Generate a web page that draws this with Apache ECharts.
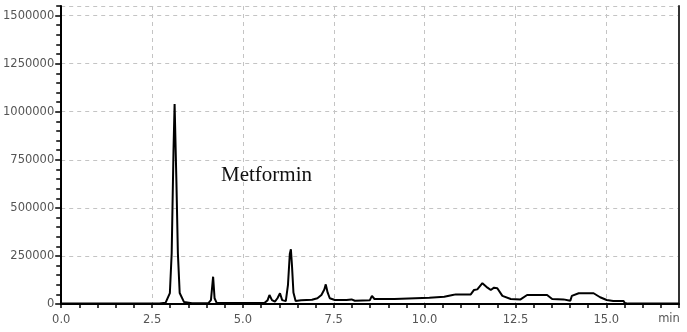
<!DOCTYPE html>
<html>
<head>
<meta charset="utf-8">
<script src="https://cdn.jsdelivr.net/npm/echarts@6/dist/echarts.min.js"></script>
<style>
html,body{margin:0;padding:0;background:#fff;}
#c{width:687px;height:332px;}
</style>
</head>
<body>
<div id="c"></div>
<script>
// Retention time (min)
const times = [0, 1.0, 2.0, 2.7, 2.87, 2.99, 3.04, 3.09, 3.12, 3.13, 3.17, 3.21, 3.26, 3.38, 3.6,
  4.05, 4.12, 4.18, 4.22, 4.28, 5.0, 5.6, 5.68, 5.73, 5.8, 5.88, 5.95, 6.02, 6.08, 6.18,
  6.24, 6.29, 6.32, 6.35, 6.39, 6.45, 6.6, 6.9, 7.05, 7.16, 7.24, 7.28, 7.33, 7.39, 7.53,
  7.85, 7.89, 7.99, 8.08, 8.49, 8.55, 8.62, 9.17, 9.22, 10.13, 10.18, 10.54, 10.59, 10.77,
  10.81, 10.86, 11.27, 11.36, 11.45, 11.59, 11.73, 11.82, 11.91, 12.00, 12.14, 12.37, 12.64,
  12.82, 13.37, 13.51, 13.82, 13.87, 14.01, 14.05, 14.24, 14.65, 14.83, 15.01, 15.19, 15.47,
  15.51, 15.6, 17];
// Detector response
const intensities = [2000, 2000, 2500, 3000, 6000, 57000, 265000, 801000, 1040000, 1046000, 636000, 265000, 57000, 10000, 4000,
  4000, 20000, 142000, 30000, 5000, 5000, 6000, 20000, 47000, 20000, 12000, 30000, 56000, 20000, 15000,
  100000, 260000, 285000, 200000, 60000, 16000, 20000, 22000, 30000, 47000, 75000, 102000, 60000, 30000, 21000,
  21000, 28000, 24000, 17000, 19000, 42000, 26000, 26000, 33000, 33000, 38000, 38000, 47000, 47000,
  56000, 50000, 50000, 73000, 76000, 108000, 85000, 73000, 85000, 82000, 42000, 26000, 24000,
  47000, 47000, 26000, 24000, 17000, 17000, 42000, 56000, 56000, 35000, 21000, 16000, 16000,
  5000, 2000, 2000];
const xTickLabels = ['0.0', '2.5', '5.0', '7.5', '10.0', '12.5', '15.0'];
const yTickLabels = ['0', '250000', '500000', '750000', '1000000', '1250000', '1500000'];
const xUnit = 'min';
const annotation = 'Metformin';

const xMin = 0, xMax = 17, yMin = 0, yMax = 1550000;
const data = times.map((t, i) => [t, intensities[i]]);

const labelFont = {fontFamily: 'DejaVu Sans', fontSize: 11.5, color: '#555'};
const gridDash = {color: '#c4c4c4', type: [4, 4], width: 1};

const chart = echarts.init(document.getElementById('c'), null, {renderer: 'canvas'});
chart.setOption({
  animation: false,
  backgroundColor: '#fff',
  grid: {left: 58, right: 8, top: 6, bottom: 28, containLabel: false},
  xAxis: [
    { // minor tick axis
      type: 'value', position: 'bottom', min: xMin, max: xMax, interval: 0.5,
      axisLine: {show: true, lineStyle: {color: '#000', width: 2}},
      axisTick: {show: true, inside: false, length: 4, lineStyle: {color: '#000', width: 1.5}},
      axisLabel: {show: false}, splitLine: {show: false}
    },
    { // labels + grid axis
      type: 'value', position: 'bottom', min: xMin, max: xMax, interval: 2.5,
      axisLine: {show: false}, axisTick: {show: false},
      axisLabel: Object.assign({show: true, margin: 10, showMaxLabel: false,
        formatter: v => { const i = Math.round(v / 2.5); return (Math.abs(v - i * 2.5) < 1e-6 && xTickLabels[i]) ? xTickLabels[i] : ''; }}, labelFont),
      splitLine: {show: true, lineStyle: gridDash}
    }
  ],
  yAxis: [
    { // minor tick axis
      type: 'value', position: 'left', min: yMin, max: yMax, interval: 50000,
      axisLine: {show: true, lineStyle: {color: '#000', width: 2}},
      axisTick: {show: true, inside: false, length: 5, lineStyle: {color: '#000', width: 1.5}},
      axisLabel: {show: false}, splitLine: {show: false}
    },
    { // labels + grid axis
      type: 'value', position: 'left', min: yMin, max: yMax, interval: 250000,
      axisLine: {show: false},
      axisTick: {show: true, inside: false, length: 6, lineStyle: {color: '#000', width: 1.5}},
      axisLabel: Object.assign({show: true, margin: 7, showMaxLabel: false,
        formatter: v => { const i = Math.round(v / 250000); return (Math.abs(v - i * 250000) < 1e-6 && yTickLabels[i]) ? yTickLabels[i] : ''; }}, labelFont),
      splitLine: {show: true, lineStyle: gridDash}
    },
    { // right frame
      type: 'value', position: 'right', min: yMin, max: yMax,
      axisLine: {show: true, lineStyle: {color: '#333', width: 2}},
      axisTick: {show: false}, axisLabel: {show: false}, splitLine: {show: false}
    }
  ],
  series: [{
    type: 'line', xAxisIndex: 0, yAxisIndex: 0, data: data,
    showSymbol: false, symbol: 'none', smooth: false,
    lineStyle: {color: '#000', width: 2}, z: 5
  }],
  graphic: [
    {type: 'text', x: 221, y: 175, z: 10,
     style: {text: annotation, font: '21px "Liberation Serif"', fill: '#111', align: 'left', verticalAlign: 'middle'}},
    {type: 'text', x: 669, y: 319, z: 10,
     style: {text: xUnit, font: '11.5px "DejaVu Sans"', fill: '#555', align: 'center', verticalAlign: 'middle'}}
  ]
});
</script>
</body>
</html>
